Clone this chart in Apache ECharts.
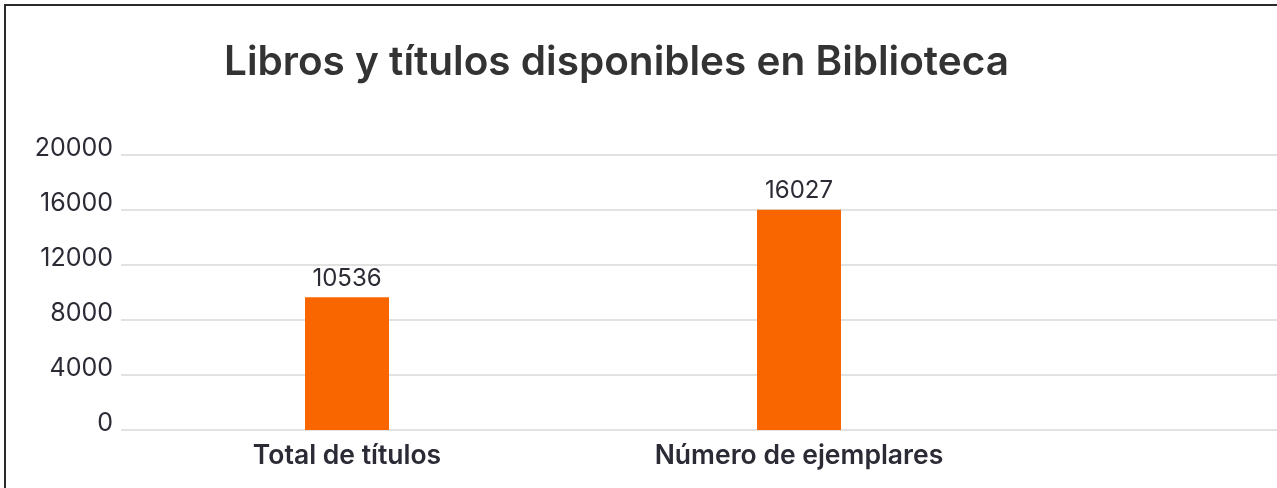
<!DOCTYPE html>
<html>
<head>
<meta charset="utf-8">
<script src="https://cdn.jsdelivr.net/npm/echarts@6/dist/echarts.min.js"></script>
<style>
html,body{margin:0;padding:0;background:#fff;overflow:hidden;width:1277px;height:488px;}
#chart{width:1477px;height:488px;}
</style>
</head>
<body>
<div id="chart"></div>
<script>
var titleText = 'Libros y títulos disponibles en Biblioteca';
var categories = ['Total de títulos', 'Número de ejemplares', ''];
var barValues = [9650, 16027, null];
var barLabels = ['10536', '16027', ''];
var yTicks = [0, 4000, 8000, 12000, 16000, 20000];

var FONT = 'Inter';
var chart = echarts.init(document.getElementById('chart'), null, {renderer: 'canvas'});
chart.setOption({
  backgroundColor: '#ffffff',
  animation: false,
  title: {
    text: titleText,
    left: 219,
    top: 37,
    textStyle: {fontFamily: FONT, fontSize: 40.5, fontWeight: 600, color: '#333333'}
  },
  graphic: [{
    type: 'rect',
    shape: {x: 5, y: 5, width: 1600, height: 600},
    style: {fill: 'none', stroke: '#2a2a2a', lineWidth: 2},
    silent: true
  }],
  grid: {left: 121, top: 155, bottom: 58, right: 0, containLabel: false},
  xAxis: {
    type: 'category',
    data: categories,
    boundaryGap: true,
    axisLine: {show: false},
    axisTick: {show: false},
    axisLabel: {fontFamily: FONT, fontSize: 26.5, fontWeight: 600, color: '#2b2b36', margin: 13}
  },
  yAxis: {
    type: 'value',
    min: yTicks[0],
    max: yTicks[yTicks.length - 1],
    interval: yTicks[1] - yTicks[0],
    axisLine: {show: false},
    axisTick: {show: false},
    splitLine: {lineStyle: {color: '#d9d9d9', width: 1.5}},
    axisLabel: {fontFamily: FONT, fontSize: 25, color: '#2b2b36', margin: 8,
      verticalAlign: 'bottom', lineHeight: 13,
      formatter: function (v) { return String(v); }}
  },
  series: [{
    type: 'bar',
    data: barValues,
    barWidth: 84,
    itemStyle: {color: '#f96600'},
    label: {
      show: true,
      position: 'top',
      distance: 7,
      fontFamily: FONT,
      fontSize: 24,
      color: '#2b2b36',
      formatter: function (p) { return barLabels[p.dataIndex]; }
    }
  }]
});
</script>
</body>
</html>
